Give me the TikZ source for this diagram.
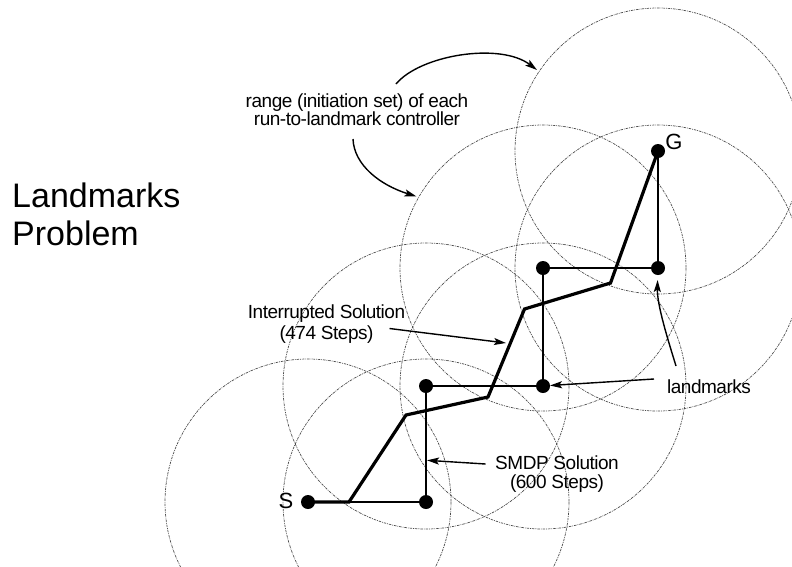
\documentclass[tikz,border=0pt]{standalone}
\usepackage{fontspec}
\setmainfont{Liberation Sans}
\newfontfamily\tightfont[LetterSpace=-2.5]{Liberation Sans}
\usetikzlibrary{arrows.meta}
\begin{document}
\begin{tikzpicture}[x=1pt,y=-1pt,
  rangecircle/.style={draw=black!70,line width=0.7pt,dash pattern=on 2.5pt off 1pt on 0.8pt off 1pt},
  lm/.style={circle,fill=black,inner sep=0pt,minimum size=14pt},
  smdp/.style={line width=1.8pt},
  interrupted/.style={line width=3.2pt,line join=miter},
  callout/.style={line width=1.4pt,-{Stealth[length=12pt,width=7pt,inset=2.5pt]}},
  lbl/.style={font=\tightfont\fontsize{19}{18}\selectfont,inner sep=0pt},
  biglbl/.style={font=\fontsize{34}{38}\selectfont,inner sep=0pt,anchor=base west},
  ptlbl/.style={font=\fontsize{22}{22}\selectfont,inner sep=0pt}]
\useasboundingbox (0,0) rectangle (792,566);
\begin{scope}
\clip (0,0) rectangle (792,566);
% landmark positions
\coordinate (pS) at (308,502);
\coordinate (p1) at (426,502);
\coordinate (p2) at (426,386);
\coordinate (p3) at (543,386);
\coordinate (p4) at (543,268);
\coordinate (p5) at (658,268);
\coordinate (pG) at (658,151);
% ranges
\foreach \p in {pS,p1,p2,p3,p4,p5,pG}{
  \draw[rangecircle] (\p) circle[radius=143];
}
% SMDP solution
\draw[smdp] (pS) -- (p1) -- (p2) -- (p3) -- (p4) -- (p5) -- (pG);
% interrupted solution
\coordinate (i1) at (349,502);
\coordinate (i2) at (406,415);
\coordinate (i3) at (488,397);
\coordinate (i4) at (524.5,309);
\coordinate (i5) at (610.5,283);
\draw[interrupted] (pS) -- (i1) -- (i2) -- (i3) -- (i4) -- (i5) -- (pG);
% landmarks
\node[lm] (S) at (pS) {};
\node[lm] (L1) at (p1) {};
\node[lm] (L2) at (p2) {};
\node[lm] (L3) at (p3) {};
\node[lm] (L4) at (p4) {};
\node[lm] (L5) at (p5) {};
\node[lm] (G) at (pG) {};
\end{scope}
% labels
\node[ptlbl] (Slbl) at (286,501) {S};
\node[ptlbl] (Glbl) at (674,142) {G};
\node[biglbl] (title1) at (12,207) {Landmarks};
\node[biglbl] (title2) at (12,245) {Problem};
\node[lbl,align=center] (range) at (357,110) {range (initiation set) of each\\run-to-landmark controller};
\node[lbl,align=center,font=\tightfont\fontsize{19}{21}\selectfont] (interr) at (326.5,324) {Interrupted Solution\\(474 Steps)};
\node[lbl,align=center,font=\tightfont\fontsize{19}{19.5}\selectfont] (smdplbl) at (557,474) {SMDP Solution\\(600 Steps)};
\node[lbl] (lmlbl) at (709,387) {landmarks};
% callout arrows
\coordinate (a1s) at (396,84);
\coordinate (a1e) at (537,70);
\draw[callout] (a1s) .. controls (420,55) and (500,42) .. (a1e);
\coordinate (a2s) at (353,139);
\coordinate (a2e) at (416.5,196.5);
\draw[callout] (a2s) .. controls (354,165) and (380,185) .. (a2e);
\coordinate (a3s) at (389.5,328.5);
\coordinate (a3e) at (506,343);
\draw[callout] (a3s) -- (a3e);
\coordinate (a4s) at (485.6,464);
\coordinate (a4e) at (427,460.3);
\draw[callout] (a4s) -- (a4e);
\coordinate (a5s) at (654,379);
\coordinate (a5e) at (550,385.5);
\draw[callout] (a5s) -- (a5e);
\coordinate (a6s) at (676,366);
\coordinate (a6e) at (657.6,280);
\draw[callout] (a6s) .. controls (668,340) and (657,305) .. (a6e);
\end{tikzpicture}
\end{document}
